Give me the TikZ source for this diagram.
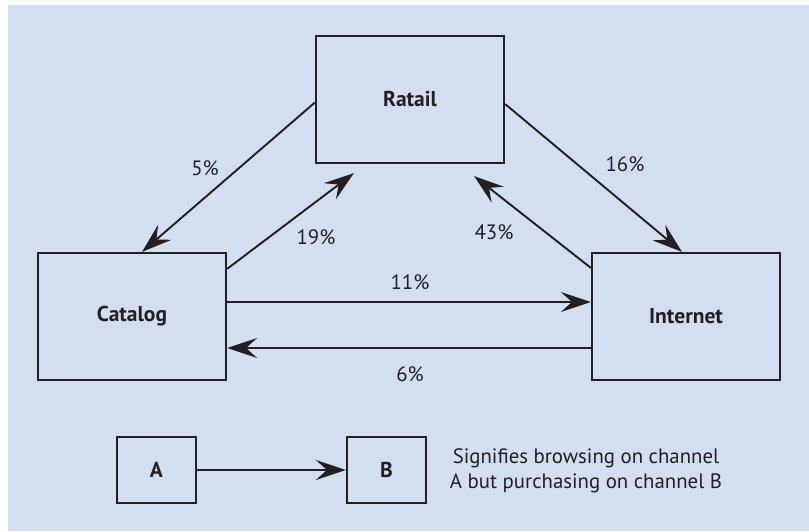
\documentclass[tikz,border=0pt]{standalone}
\usepackage{fontspec}
\setmainfont{PT Sans}
\usetikzlibrary{arrows.meta,positioning}
\definecolor{bgblue}{RGB}{211,223,240}
\definecolor{inkgray}{RGB}{35,31,32}

\begin{document}
\begin{tikzpicture}[x=1pt,y=-1pt,
  chan/.style={draw=inkgray,line width=2.2pt,minimum width=188pt,minimum height=127pt,inner sep=0pt,
    font=\fontsize{21.5}{24}\selectfont\bfseries,text=inkgray},
  keybox/.style={chan,minimum width=79pt,minimum height=66pt},
  flow/.style={draw=inkgray,line width=1.9pt,-{Stealth[length=30pt,width=20pt,inset=11pt]}},
  pct/.style={font=\fontsize{20.8}{25}\selectfont,text=inkgray}]
  \useasboundingbox (0,0) rectangle (809,531);
  % background
  \fill[bgblue] (8,5) rectangle (809,531);

  % channels
  \node[chan] (ratail) at (410,99.5) {Ratail};
  \node[chan] (catalog) at (132,316.5) {Catalog};
  \node[chan] (internet) at (686,316.5) {Internet};

  % flows
  \draw[flow] ([yshift=-3pt]ratail.west) -- ([xshift=10pt]catalog.north);
  \draw[flow] ([yshift=-17pt]catalog.north east) -- ([shift={(39pt,-9pt)}]ratail.south west);
  \draw[flow] ([yshift=-4.5pt]ratail.east) -- ([xshift=-4pt]internet.north);
  \draw[flow] ([yshift=-16pt]internet.north west) -- ([shift={(-31pt,-12pt)}]ratail.south east);
  \draw[flow] ([yshift=14.5pt]catalog.east) -- ([yshift=14.5pt]internet.west);
  \draw[flow] ([yshift=-31.5pt]internet.west) -- ([yshift=-31.5pt]catalog.east);

  % percentages
  \node[pct] (p5) at (205,168) {5\%};
  \node[pct] (p19) at (316,237) {19\%};
  \node[pct] (p16) at (625,164) {16\%};
  \node[pct] (p43) at (494,232) {43\%};
  \node[pct] (p11) at (410,282) {11\%};
  \node[pct] (p6) at (410,374) {6\%};

  % legend
  \node[keybox] (keya) at (156.5,470) {A};
  \node[keybox] (keyb) at (386.5,470) {B};
  \draw[flow] (keya.east) -- (keyb.west);
  \node[pct,align=center] (keytext) at (586,471) {Signifies browsing on channel\\A but purchasing on channel B};
\end{tikzpicture}
\end{document}
